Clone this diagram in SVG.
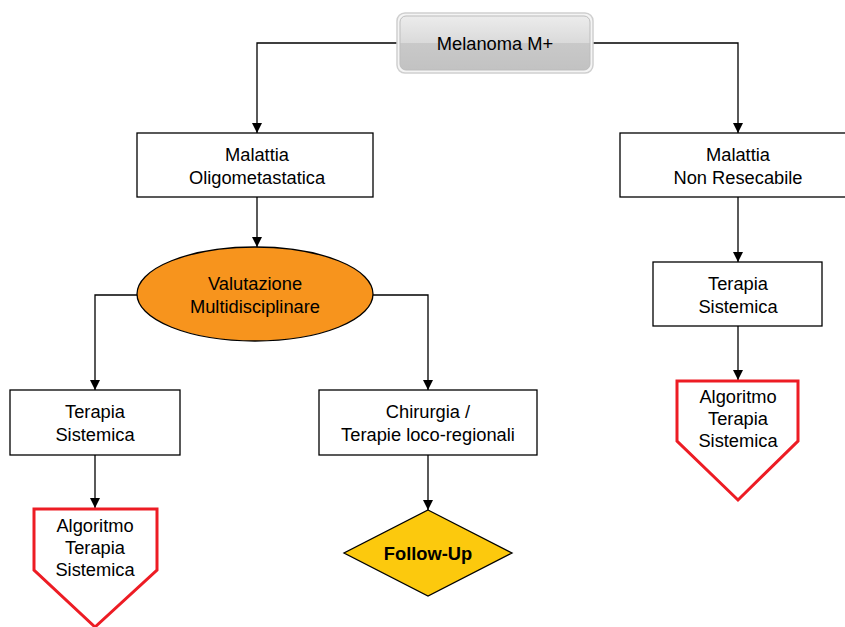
<svg xmlns="http://www.w3.org/2000/svg" width="845" height="627" viewBox="0 0 845 627">
<defs>
<linearGradient id="gloss" x1="0" y1="0" x2="0" y2="1">
<stop offset="0" stop-color="#ececec"/>
<stop offset="0.5" stop-color="#dadada"/>
<stop offset="0.5" stop-color="#c9c9c9"/>
<stop offset="1" stop-color="#c2c2c2"/>
</linearGradient>
<marker id="arr" markerWidth="10" markerHeight="10" refX="10" refY="5" orient="auto" markerUnits="userSpaceOnUse">
<path d="M0,0 L10,5 L0,10 Z" fill="#000"/>
</marker>
</defs>
<style>
text{font-family:"Liberation Sans",Arial,sans-serif;font-size:18.3px;fill:#000;text-anchor:middle}
.box{fill:#fff;stroke:#000;stroke-width:1.3}
.pent{fill:#fff;stroke:#ed1c24;stroke-width:3}
.con{fill:none;stroke:#000;stroke-width:1.3}
</style>
<rect width="845" height="627" fill="#fff"/>
<g id="connectors">
<path class="con" d="M397,43 H257 V133" marker-end="url(#arr)"/>
<path class="con" d="M593,43 H738 V133" marker-end="url(#arr)"/>
<path class="con" d="M257,197 V247" marker-end="url(#arr)"/>
<path class="con" d="M137,295 H95 V390" marker-end="url(#arr)"/>
<path class="con" d="M373,295 H428 V390" marker-end="url(#arr)"/>
<path class="con" d="M95,455 V508" marker-end="url(#arr)"/>
<path class="con" d="M428,455 V510" marker-end="url(#arr)"/>
<path class="con" d="M738,197 V262" marker-end="url(#arr)"/>
<path class="con" d="M738,326 V380" marker-end="url(#arr)"/>
</g>
<g id="melanoma">
<rect x="397" y="13" width="196" height="60" rx="8" fill="#f4f4f4" stroke="#cfcfcf" stroke-width="1.5"/>
<rect x="400" y="16" width="190" height="54" rx="6" fill="url(#gloss)" stroke="#bdbdbd" stroke-width="1"/>
<text x="495" y="50">Melanoma M+</text>
</g>
<g id="oligo">
<rect class="box" x="137" y="133" width="236" height="64"/>
<text x="257" y="161">Malattia</text>
<text x="257" y="184">Oligometastatica</text>
</g>
<g id="nonresecabile">
<rect class="box" x="620" y="133" width="230" height="64"/>
<text x="738" y="161">Malattia</text>
<text x="738" y="184">Non Resecabile</text>
</g>
<g id="valutazione">
<ellipse cx="255" cy="294" rx="118" ry="47" fill="#f7941d" stroke="#000" stroke-width="1.3"/>
<text x="255" y="290">Valutazione</text>
<text x="255" y="313">Multidisciplinare</text>
</g>
<g id="terapia-left">
<rect class="box" x="10" y="390" width="170" height="65"/>
<text x="95" y="418">Terapia</text>
<text x="95" y="441">Sistemica</text>
</g>
<g id="chirurgia">
<rect class="box" x="319" y="390" width="218" height="65"/>
<text x="428" y="418">Chirurgia /</text>
<text x="428" y="441">Terapie loco-regionali</text>
</g>
<g id="terapia-right">
<rect class="box" x="653" y="262" width="169" height="64"/>
<text x="738" y="290">Terapia</text>
<text x="738" y="313">Sistemica</text>
</g>
<g id="algoritmo-left">
<path class="pent" d="M34,509 H157 V570 L95,627 L34,570 Z"/>
<text x="95" y="532">Algoritmo</text>
<text x="95" y="554">Terapia</text>
<text x="95" y="576">Sistemica</text>
</g>
<g id="followup">
<path d="M428,510 L512,553 L428,596 L344,553 Z" fill="#fcc90d" stroke="#000" stroke-width="1.3"/>
<text x="428" y="560" font-weight="bold">Follow-Up</text>
</g>
<g id="algoritmo-right">
<path class="pent" d="M677,381 H798 V441 L738,500 L677,441 Z"/>
<text x="738" y="403">Algoritmo</text>
<text x="738" y="425">Terapia</text>
<text x="738" y="447">Sistemica</text>
</g>
</svg>
